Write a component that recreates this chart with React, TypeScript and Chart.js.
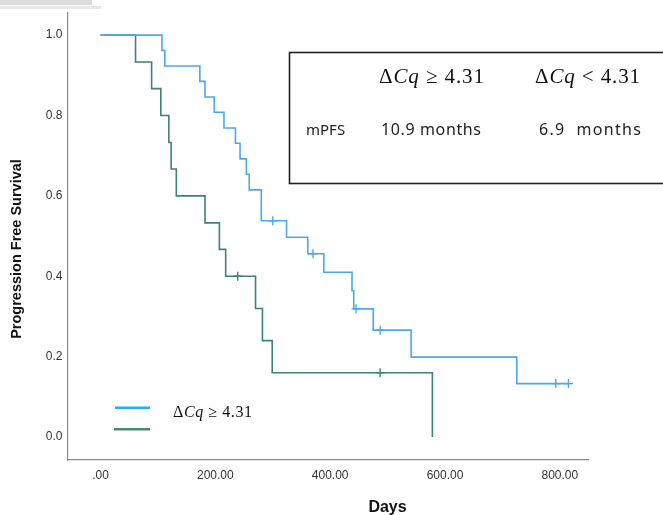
import React, { useEffect, useRef } from "react";
import { Chart, registerables } from "chart.js";

Chart.register(...registerables);

// Kaplan-Meier steps, ΔCq ≥ 4.31 (days, survival after event)
const highTimes = [0, 107, 112, 173, 182, 198, 215, 235, 243, 254, 259, 280, 324, 361, 389, 438, 441, 475, 541, 725, 815];
const highSurv = [1.0, 0.962, 0.923, 0.885, 0.846, 0.808, 0.769, 0.731, 0.692, 0.654, 0.615, 0.538, 0.497, 0.456, 0.41, 0.364, 0.319, 0.266, 0.199, 0.133, 0.133];
const highCensorTimes = [300, 370, 445, 487, 793, 815];
const highCensorSurv = [0.538, 0.456, 0.319, 0.266, 0.133, 0.133];

// ΔCq < 4.31
const lowTimes = [0, 61, 89, 105, 119, 123, 132, 182, 207, 218, 270, 282, 299, 578];
const lowSurv = [1.0, 0.933, 0.867, 0.8, 0.733, 0.667, 0.6, 0.533, 0.467, 0.4, 0.32, 0.24, 0.16, 0.0];
const lowCensorTimes = [239, 487];
const lowCensorSurv = [0.4, 0.16];

const xTickValues = [0, 200, 400, 600, 800];
const yTickValues = [0, 0.2, 0.4, 0.6, 0.8, 1.0];

const BLUE = "#4AA8EE";
const TEAL = "#3D8279";
const LEG_BLUE = "#1DB2F0";
const LEG_TEAL = "#4A8A78";

const toPts = (xs: number[], ys: number[]) => xs.map((x, i) => ({ x, y: ys[i] }));

export default function App() {
  const ref = useRef<HTMLCanvasElement | null>(null);

  useEffect(() => {
    if (!ref.current) return;
    const tickFont = { family: "'Liberation Sans', Arial, sans-serif", size: 12 };
    const chart = new Chart(ref.current, {
      type: "line",
      data: {
        datasets: [
          {
            data: toPts(highTimes, highSurv),
            borderColor: BLUE,
            borderWidth: 1.6,
            stepped: "before",
            pointRadius: 0,
            fill: false,
          },
          {
            data: toPts(lowTimes, lowSurv),
            borderColor: TEAL,
            borderWidth: 1.6,
            stepped: "before",
            pointRadius: 0,
            fill: false,
          },
          {
            data: toPts(highCensorTimes, highCensorSurv),
            showLine: false,
            pointStyle: "cross",
            pointRadius: 4.5,
            pointBorderWidth: 1.4,
            pointBorderColor: BLUE,
            borderColor: BLUE,
          },
          {
            data: toPts(lowCensorTimes, lowCensorSurv),
            showLine: false,
            pointStyle: "cross",
            pointRadius: 4.5,
            pointBorderWidth: 1.4,
            pointBorderColor: TEAL,
            borderColor: TEAL,
          },
        ] as any,
      },
      options: {
        animation: false,
        responsive: false,
        devicePixelRatio: 1,
        layout: { padding: { left: 0, top: 10, right: 75, bottom: 0 } },
        plugins: { legend: { display: false }, tooltip: { enabled: false } },
        scales: {
          x: {
            type: "linear",
            min: -57.5,
            max: 849,
            grid: { display: false, drawTicks: false },
            border: { display: true, color: "#8c8c8c", width: 1.2 },
            ticks: {
              padding: 8,
              font: tickFont,
              color: "#333",
              autoSkip: false,
              maxRotation: 0,
              callback: (v: any) => (Number(v) === 0 ? ".00" : Number(v).toFixed(2)),
            },
            afterBuildTicks: (s: any) => {
              s.ticks = xTickValues.map((v) => ({ value: v }));
            },
            afterFit: (s: any) => {
              s.height = 55;
            },
          },
          y: {
            type: "linear",
            min: -0.057,
            max: 1.057,
            grid: { display: false, drawTicks: false },
            border: { display: true, color: "#8c8c8c", width: 1.2 },
            ticks: {
              padding: 5,
              font: tickFont,
              color: "#333",
              autoSkip: false,
              callback: (v: any) => Number(v).toFixed(1),
            },
            afterBuildTicks: (s: any) => {
              s.ticks = yTickValues.map((v) => ({ value: v }));
            },
            afterFit: (s: any) => {
              s.width = 67.5;
            },
          },
        },
      } as any,
    });
    return () => chart.destroy();
  }, []);

  const serif = "'Liberation Serif', 'DejaVu Serif', serif";
  const sans = "'Noto Sans', 'Open Sans', sans-serif";
  const arial = "'Liberation Sans', Arial, sans-serif";

  return (
    <div style={{ position: "absolute", left: 0, top: 0, width: 663, height: 515, background: "#fff", overflow: "hidden" }}>
      <canvas ref={ref} width={663} height={515} style={{ position: "absolute", left: 0, top: 0, width: 663, height: 515 }} />
      <svg width={663} height={515} style={{ position: "absolute", left: 0, top: 0, pointerEvents: "none" }}>
        {/* top-left artifact */}
        <rect x={0} y={0} width={92} height={5} fill="#dcdcdc" />
        <rect x={0} y={6} width={101} height={3} fill="#e8e8e8" />

        {/* annotation box */}
        <rect x={289.5} y={52.5} width={400} height={131} fill="#fff" stroke="#222" strokeWidth={1.6} />
        <text x={379} y={83} fontFamily={serif} fontSize={21} fill="#111" textLength={105}>
          Δ<tspan fontStyle="italic">Cq</tspan> ≥ 4.31
        </text>
        <text x={535} y={83} fontFamily={serif} fontSize={21} fill="#111" textLength={105}>
          Δ<tspan fontStyle="italic">Cq</tspan> &lt; 4.31
        </text>
        <text x={306} y={135} fontFamily={sans} fontSize={15} fill="#222">mPFS</text>
        <text x={381} y={135} fontFamily={sans} fontSize={16} fill="#222" textLength={100}>10.9 months</text>
        <text x={539} y={135} fontFamily={sans} fontSize={16} fill="#222" textLength={102} style={{ whiteSpace: "pre" }}>6.9  months</text>

        {/* legend */}
        <line x1={115} y1={407.7} x2={150} y2={407.7} stroke={LEG_BLUE} strokeWidth={2.6} />
        <line x1={114} y1={429.3} x2={150} y2={429.3} stroke={LEG_TEAL} strokeWidth={2.6} />
        <text x={173} y={417} fontFamily={serif} fontSize={16} fill="#111" textLength={79}>
          Δ<tspan fontStyle="italic">Cq</tspan> ≥ 4.31
        </text>

        {/* axis titles */}
        <text
          transform="translate(21,249) rotate(-90)"
          textAnchor="middle"
          fontFamily={arial}
          fontWeight="bold"
          fontSize={14.5}
          fill="#111"
        >
          Progression Free Survival
        </text>
        <text x={387.5} y={512} textAnchor="middle" fontFamily={arial} fontWeight="bold" fontSize={16} fill="#111">
          Days
        </text>
      </svg>
    </div>
  );
}
